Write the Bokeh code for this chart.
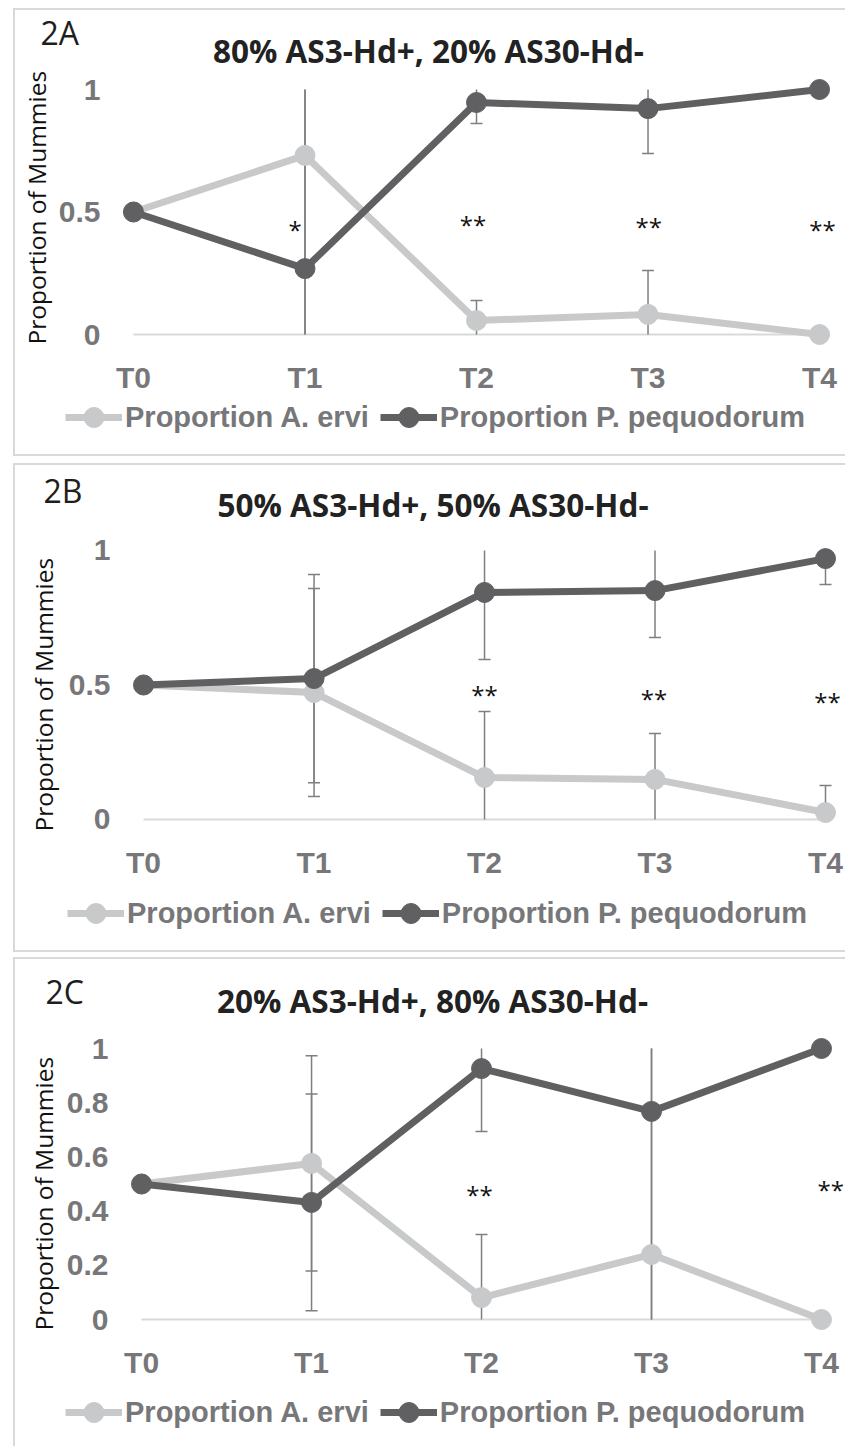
import numpy as np
from bokeh.plotting import figure
from bokeh.models import Legend, LegendItem, FixedTicker, NumeralTickFormatter, Title
from bokeh.embed import file_html
from bokeh.resources import INLINE
from bokeh.core.properties import value

# ---------------- data ----------------
categories = ["T0", "T1", "T2", "T3", "T4"]
series_names = ["Proportion A. ervi", "Proportion P. pequodorum"]
y_axis_title = "Proportion of Mummies"

a_tag = "2A"
a_title = "80% AS3-Hd+, 20% AS30-Hd-"
a_ervi = [0.5, 0.731, 0.057, 0.082, 0.0]
a_ervi_err = [0.0, 0.76, 0.082, 0.179, 0.0]
a_pequ = [0.5, 0.269, 0.947, 0.922, 1.0]
a_pequ_err = [0.0, 0.76, 0.086, 0.183, 0.0]
a_sig_x = [0.943, 1.98, 3.004, 4.017]
a_sig_y = [0.433, 0.453, 0.445, 0.433]
a_sig_text = ["*", "**", "**", "**"]
a_yticks = [0, 0.5, 1]

b_tag = "2B"
b_title = "50% AS3-Hd+, 50% AS30-Hd-"
b_ervi = [0.5, 0.472, 0.156, 0.149, 0.026]
b_ervi_err = [0.0, 0.387, 0.245, 0.171, 0.100]
b_pequ = [0.5, 0.524, 0.844, 0.851, 0.970]
b_pequ_err = [0.0, 0.387, 0.249, 0.174, 0.096]
b_sig_x = [2.0, 2.994, 4.012]
b_sig_y = [0.468, 0.454, 0.442]
b_sig_text = ["**", "**", "**"]
b_yticks = [0, 0.5, 1]

c_tag = "2C"
c_title = "20% AS3-Hd+, 80% AS30-Hd-"
c_ervi = [0.5, 0.576, 0.081, 0.240, 0.0]
c_ervi_err = [0.0, 0.397, 0.233, 0.80, 0.0]
c_pequ = [0.5, 0.432, 0.926, 0.768, 1.0]
c_pequ_err = [0.0, 0.400, 0.232, 0.80, 0.0]
c_sig_x = [1.988, 4.055]
c_sig_y = [0.465, 0.483]
c_sig_text = ["**", "**"]
c_yticks = [0, 0.2, 0.4, 0.6, 0.8, 1]

# ---------------- style ----------------
LIGHT = "#c8c9ca"
DARK = "#606062"
ERR = "#7f7f7f"
TICK = "#77777a"
BORDER = "2px solid #d9d9d9"
W = 832
LEFT = 13


def place(fig, top, borders):
    st = {"position": "absolute", "left": f"{LEFT}px", "top": f"{top}px"}
    for b in borders:
        st[f"border-{b}"] = BORDER
    fig.styles = st


def make_header(tag, title, top, height, tag_xy, title_xy):
    h = figure(width=W, height=height, x_range=(0, W - 2), y_range=(height - 2, 0),
               output_backend="svg", toolbar_location=None, min_border=0,
               x_axis_location=None, y_axis_location=None)
    place(h, top, ["top", "left"])
    h.grid.visible = False
    h.outline_line_color = None
    h.text(x=[tag_xy[0]], y=[tag_xy[1]], text=[tag], text_font=value("Open Sans"),
           text_font_size="32px", text_color="#1e1e1e", text_align="left",
           text_baseline="alphabetic")
    h.text(x=[title_xy[0]], y=[title_xy[1]], text=[title], text_font=value("Open Sans"),
           text_font_style="bold", text_font_size="31.5px", text_color="#222222",
           text_align="center", text_baseline="alphabetic")
    return h


def make_plot(ervi, ervi_err, pequ, pequ_err, sig_x, sig_y, sig_text, yticks,
              top, height, xr, yr, mb, lab_standoff, lab_offset):
    p = figure(width=W, height=height, x_range=xr, y_range=yr,
               output_backend="svg", toolbar_location=None,
               min_border_left=mb[0], min_border_right=mb[1],
               min_border_top=mb[2], min_border_bottom=mb[3])
    place(p, top, ["left"])
    p.xgrid.visible = False
    p.ygrid.visible = False
    p.outline_line_color = None

    x = np.arange(len(categories), dtype=float)

    p.xaxis.ticker = FixedTicker(ticks=list(range(len(categories))))
    p.xaxis.major_label_overrides = {i: c for i, c in enumerate(categories)}
    p.yaxis.ticker = FixedTicker(ticks=yticks)
    p.yaxis.formatter = NumeralTickFormatter(format="0.[0]")
    for ax in (p.xaxis, p.yaxis):
        ax.axis_line_color = None
        ax.major_tick_line_color = None
        ax.minor_tick_line_color = None
        ax.major_tick_out = 0
        ax.major_tick_in = 0
        ax.major_label_text_font = "Liberation Sans"
        ax.major_label_text_font_style = "bold"
        ax.major_label_text_font_size = "30px"
        ax.major_label_text_color = TICK
    p.xaxis.major_label_standoff = 0
    p.yaxis.major_label_standoff = 8

    # y-axis title, starting near the bottom of the frame
    p.add_layout(Title(text=y_axis_title, align="left", offset=lab_offset,
                       standoff=lab_standoff, text_font="Open Sans",
                       text_font_style="normal", text_font_size="24.5px",
                       text_color="#111111"), "left")

    # category baseline
    p.segment(x0=[x[0]], y0=[0], x1=[x[-1]], y1=[0], line_color="#d9d9d9", line_width=2)

    # error bars (clipped to the 0..1 axis range)
    for vals, errs in ((ervi, ervi_err), (pequ, pequ_err)):
        v = np.array(vals)
        e = np.array(errs)
        lo = np.clip(v - e, 0, 1)
        hi = np.clip(v + e, 0, 1)
        m = e > 0
        p.segment(x0=x[m], y0=lo[m], x1=x[m], y1=hi[m], line_color=ERR, line_width=1.5)
        ct = m & (v + e < 1)
        cb = m & (v - e > 0)
        p.scatter(x[ct], hi[ct], marker="dash", size=12, line_color=ERR, line_width=1.5)
        p.scatter(x[cb], lo[cb], marker="dash", size=12, line_color=ERR, line_width=1.5)

    for vals, col in ((ervi, LIGHT), (pequ, DARK)):
        p.line(x, vals, line_color=col, line_width=7)
        p.scatter(x, vals, size=20, fill_color=col, line_color=col)

    p.text(x=sig_x, y=sig_y, text=sig_text, text_font=value("Open Sans"),
           text_font_size="24px", text_color="#111111", text_align="center",
           text_baseline="alphabetic", y_offset=1)
    return p


def make_footer(top, height, leg_loc, bottom_border=True):
    f = figure(width=W, height=height, x_range=(0, 1), y_range=(0, 1),
               output_backend="svg", toolbar_location=None, min_border=0,
               x_axis_location=None, y_axis_location=None)
    place(f, top, ["left", "bottom"] if bottom_border else ["left"])
    f.grid.visible = False
    f.outline_line_color = None
    items = []
    for col, name in ((LIGHT, series_names[0]), (DARK, series_names[1])):
        # legend proxies (no visible data)
        rl = f.line(x=[np.nan], y=[np.nan], line_color=col, line_width=7)
        rs = f.scatter(x=[np.nan], y=[np.nan], size=20, fill_color=col, line_color=col)
        items.append(LegendItem(label=name, renderers=[rl, rs]))
    legend = Legend(items=items, location=leg_loc, orientation="horizontal",
                    glyph_width=57, glyph_height=50, label_standoff=3, spacing=11,
                    padding=0, margin=0, border_line_alpha=0, background_fill_alpha=0,
                    label_text_font="Liberation Sans", label_text_font_style="bold",
                    label_text_font_size="29px", label_text_color=TICK)
    f.add_layout(legend)
    return f


hA = make_header(a_tag, a_title, 8, 64, (25, 21), (412, 39))
pA = make_plot(a_ervi, a_ervi_err, a_pequ, a_pequ_err, a_sig_x, a_sig_y, a_sig_text, a_yticks,
               72, 326, (-0.1456, 4.163), (-0.1061, 1.0531), (90, 0, 4, 38), 5, 16)
fA = make_footer(398, 58, (50, 14))

hB = make_header(b_tag, b_title, 463, 65, (28, 24), (416.5, 38))
pB = make_plot(b_ervi, b_ervi_err, b_pequ, b_pequ_err, b_sig_x, b_sig_y, b_sig_text, b_yticks,
               528, 355, (-0.147, 4.129), (-0.0967, 1.0446), (103, 0, 10, 38), 12, 14)
fB = make_footer(883, 69, (52, 14))

hC = make_header(c_tag, c_title, 957, 69, (30, 31), (416, 40))
pC = make_plot(c_ervi, c_ervi_err, c_pequ, c_pequ_err, c_sig_x, c_sig_y, c_sig_text, c_yticks,
               1026, 357, (-0.1475, 4.153), (-0.0959, 1.0443), (101, 0, 10, 38), 8, 15)
fC = make_footer(1383, 63, (50, 9), bottom_border=False)

roots = [hA, pA, fA, hB, pB, fB, hC, pC, fC]
open("out.html", "w").write(file_html(roots, INLINE))
